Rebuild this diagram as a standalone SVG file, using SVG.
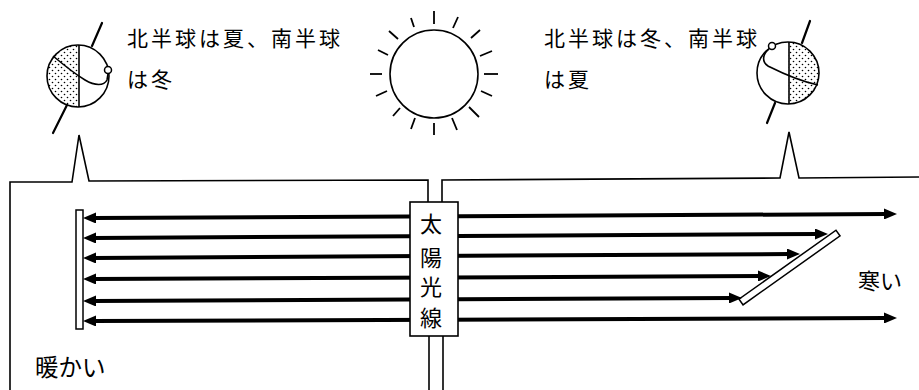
<svg xmlns="http://www.w3.org/2000/svg" width="919" height="390" viewBox="0 0 919 390">
  <style>
    .ln { fill: none; stroke: #000; stroke-width: 1.6; }
    .thick { fill: none; stroke: #000; stroke-width: 2.2; stroke-linecap: round; }
    .ray { stroke: #000; stroke-width: 1.8; stroke-linecap: butt; }
    .arrow { fill: none; stroke: #000; stroke-width: 4; marker-start: url(#head); marker-end: url(#head); }
    .plate { fill: #fff; stroke: #000; stroke-width: 1.5; }
    .txt { font-family: "Noto Sans CJK JP", "Noto Sans", sans-serif; fill: #000; }
    .lbl { font-size: 21px; letter-spacing: 3px; }
    .box { font-size: 22px; text-anchor: middle; }
  </style>
  <defs>
    <pattern id="dots" width="6" height="6" patternUnits="userSpaceOnUse">
      <circle cx="1.5" cy="1.5" r="0.8" fill="#000"/>
      <circle cx="4.5" cy="4.5" r="0.8" fill="#000"/>
    </pattern>
    <marker id="head" viewBox="0 0 13 11" refX="3" refY="5.5" markerWidth="13" markerHeight="11" markerUnits="userSpaceOnUse" orient="auto-start-reverse">
      <path d="M0,0 L13,5.5 L0,11 Z" fill="#000"/>
    </marker>
  </defs>

  <!-- earth in northern summer -->
  <g id="globe-left">
    <line class="thick" x1="102" y1="23" x2="92" y2="46"/>
    <line class="thick" x1="67" y1="105" x2="53" y2="133"/>
    <path d="M78,45 A31,31 0 0 0 78,107 Z" fill="url(#dots)"/>
    <circle cx="78" cy="76" r="31" class="ln" stroke-width="2"/>
    <line x1="79" y1="45" x2="79" y2="107" stroke="#000" stroke-width="1.6"/>
    <path class="ln" stroke-width="2" d="M53,56 C65,66 75,74 85,80 C95,86 104,86 107,80 L108,74"/>
    <circle cx="108" cy="70" r="3.5" fill="#fff" stroke="#000" stroke-width="1.5"/>
  </g>

  <!-- the sun -->
  <g id="sun">
    <circle cx="434" cy="74" r="44" class="ln" stroke-width="2"/>
    <g class="ray">
      <line x1="434" y1="24" x2="434" y2="11"/>
      <line x1="453" y1="28" x2="458" y2="17"/>
      <line x1="471" y1="38" x2="480" y2="30"/>
      <line x1="480" y1="56" x2="492" y2="51"/>
      <line x1="484" y1="74" x2="498" y2="74"/>
      <line x1="481" y1="91" x2="492" y2="96"/>
      <line x1="469" y1="107" x2="479" y2="117"/>
      <line x1="452" y1="118" x2="457" y2="130"/>
      <line x1="434" y1="123" x2="434" y2="135"/>
      <line x1="415" y1="118" x2="411" y2="129"/>
      <line x1="400" y1="108" x2="393" y2="116"/>
      <line x1="387" y1="91" x2="376" y2="96"/>
      <line x1="382" y1="74" x2="370" y2="74"/>
      <line x1="388" y1="55" x2="378" y2="50"/>
      <line x1="398" y1="39" x2="389" y2="31"/>
      <line x1="414" y1="27" x2="411" y2="18"/>
    </g>
  </g>

  <!-- earth in northern winter -->
  <g id="globe-right">
    <line class="thick" x1="810" y1="21" x2="802" y2="43"/>
    <line class="thick" x1="775" y1="103" x2="767" y2="123"/>
    <path d="M788,42 A31,31 0 0 1 788,104 Z" fill="url(#dots)"/>
    <circle cx="788" cy="73" r="31" class="ln" stroke-width="2"/>
    <line x1="789" y1="42" x2="789" y2="104" stroke="#000" stroke-width="1.6"/>
    <path class="ln" stroke-width="2" d="M769,49 C762,55 762,62 768,66 C778,71 795,80 818,85"/>
    <circle cx="772" cy="46" r="3.5" fill="#fff" stroke="#000" stroke-width="1.5"/>
  </g>

  <!-- captions -->
  <g id="caption-left">
    <text class="txt lbl" x="127" y="46">北半球は夏、南半球</text>
    <text class="txt lbl" x="127" y="87">は冬</text>
  </g>
  <g id="caption-right">
    <text class="txt lbl" x="544" y="46">北半球は冬、南半球</text>
    <text class="txt lbl" x="544" y="87">は夏</text>
  </g>

  <!-- frame with the two pointers and the channel -->
  <g id="frame">
    <path class="ln" d="M10,390 L10,182 L72,182 L79,135 L89,181 L428,180 L428,202"/>
    <path class="ln" d="M442,202 L442,180 L780,178 L789,132 L799,178 L919,177"/>
    <line class="ln" x1="429" y1="336" x2="429" y2="390"/>
    <line class="ln" x1="443" y1="336" x2="443" y2="390"/>
  </g>

  <!-- surfaces -->
  <g id="plate-left">
    <rect class="plate" x="76" y="210" width="7" height="119"/>
  </g>
  <g id="plate-right">
    <rect class="plate" x="0" y="-3.5" width="119" height="7" transform="translate(741,302) rotate(-35.4)"/>
  </g>

  <!-- sun rays -->
  <g id="connectors">
    <path class="arrow" d="M93,218 L887,214"/>
    <path class="arrow" d="M93,238 L818,234"/>
    <path class="arrow" d="M93,258 L790,254"/>
    <path class="arrow" d="M93,279 L761,276"/>
    <path class="arrow" d="M93,301 L732,298"/>
    <path class="arrow" d="M93,321 L887,318"/>
  </g>

  <g id="sunlight-box">
    <rect x="410" y="202" width="48" height="134" fill="#fff" stroke="#000" stroke-width="1.6"/>
    <text class="txt box" x="431" y="232">太</text>
    <text class="txt box" x="431" y="266">陽</text>
    <text class="txt box" x="431" y="295">光</text>
    <text class="txt box" x="431" y="326">線</text>
  </g>

  <g id="label-cold">
    <text class="txt" x="858" y="289" font-size="22">寒い</text>
  </g>
  <g id="label-warm">
    <text class="txt" x="35" y="376" font-size="23.5">暖かい</text>
  </g>
</svg>
